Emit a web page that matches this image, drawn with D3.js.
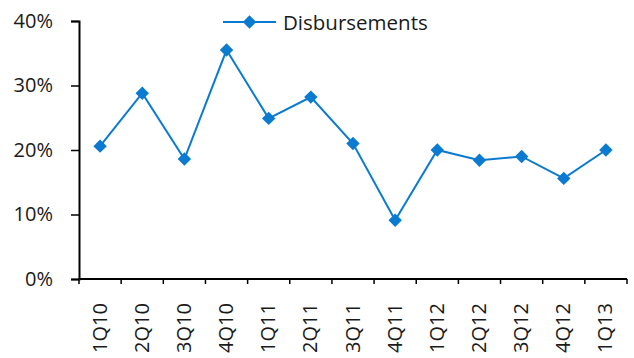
<!DOCTYPE html>
<html>
<head>
<meta charset="utf-8">
<script src="https://cdn.jsdelivr.net/npm/d3@7"></script>
<style>
  html, body { margin: 0; padding: 0; background: #fff; }
  svg { display: block; }
  text { font-family: "Open Sans", "Noto Sans", sans-serif; fill: #1a1a1a; }
</style>
</head>
<body>
<svg id="chart" width="634" height="358"></svg>
<script>
// Quarterly disbursement growth
const quarters = ["1Q10","2Q10","3Q10","4Q10","1Q11","2Q11","3Q11","4Q11","1Q12","2Q12","3Q12","4Q12","1Q13"];
const disbursements = [0.206, 0.288, 0.186, 0.355, 0.249, 0.282, 0.210, 0.091, 0.200, 0.184, 0.190, 0.156, 0.200];
const yTicks = [0, 0.1, 0.2, 0.3, 0.4];
const seriesName = "Disbursements";

const blue = "#0a7bd0";
const svg = d3.select("#chart");
const m = { left: 79, right: 7, top: 21, bottom: 79 };
const W = 634, H = 358;

const x = d3.scaleBand().domain(quarters).range([m.left, W - m.right]);
const y = d3.scaleLinear().domain([0, 0.4]).range([H - m.bottom, m.top]);

// Y axis
const yAxis = svg.append("g")
  .attr("transform", `translate(${m.left},0)`)
  .call(d3.axisLeft(y).tickValues(yTicks).tickFormat(d3.format(".0%")).tickSize(8).tickPadding(18));
yAxis.select(".domain").attr("stroke", "#000").attr("stroke-width", 2);
yAxis.selectAll(".tick line").attr("stroke", "#000").attr("stroke-width", 1.5);
yAxis.selectAll("text").attr("font-size", 20).attr("fill", "#1a1a1a")
  .attr("font-family", "'Open Sans', 'Noto Sans', sans-serif");

// X axis with boundary ticks between categories
const xg = svg.append("g").attr("transform", `translate(0,${y(0)})`);
xg.append("line")
  .attr("x1", m.left - 1).attr("x2", W - m.right)
  .attr("y1", 0).attr("y2", 0)
  .attr("stroke", "#000").attr("stroke-width", 2);
const bounds = quarters.map(q => x(q)).concat([x(quarters[quarters.length - 1]) + x.bandwidth()]);
xg.selectAll("line.tk").data(bounds).enter().append("line")
  .attr("class", "tk")
  .attr("x1", d => d).attr("x2", d => d)
  .attr("y1", 0).attr("y2", 5)
  .attr("stroke", "#000").attr("stroke-width", 1.5);
xg.selectAll("text.lbl").data(quarters).enter().append("text")
  .attr("class", "lbl")
  .attr("transform", d => `translate(${x(d) + x.bandwidth() / 2 + 6.5},${24}) rotate(-90)`)
  .attr("text-anchor", "end")
  .attr("font-size", 20)
  .text(d => d);

// Line and markers
const cx = (d, i) => x(quarters[i]) + x.bandwidth() / 2;
const line = d3.line().x(cx).y(d => y(d));
svg.append("path")
  .datum(disbursements)
  .attr("d", line)
  .attr("fill", "none")
  .attr("stroke", blue)
  .attr("stroke-width", 2);

const diamond = d3.symbol().type(d3.symbolSquare).size(90);
svg.selectAll("path.pt").data(disbursements).enter().append("path")
  .attr("class", "pt")
  .attr("d", diamond)
  .attr("transform", (d, i) => `translate(${cx(d, i)},${y(d)}) rotate(45)`)
  .attr("fill", blue);

// Legend
const lg = svg.append("g").attr("transform", "translate(223,22)");
lg.append("line").attr("x1", 0).attr("x2", 53).attr("y1", 0).attr("y2", 0)
  .attr("stroke", blue).attr("stroke-width", 2);
lg.append("path").attr("d", diamond).attr("transform", "translate(26.5,0) rotate(45)").attr("fill", blue);
lg.append("text").attr("x", 60).attr("y", 8).attr("font-size", 20.5).text(seriesName);
</script>
</body>
</html>
